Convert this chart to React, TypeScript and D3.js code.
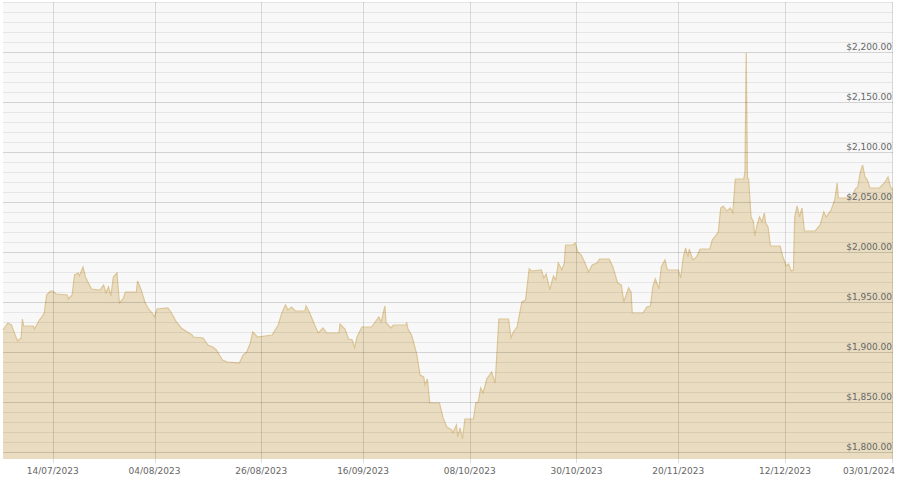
import React, { useRef, useEffect } from 'react';
import * as d3 from 'd3';

// days since 04/07/2023 (UTC) for each price reading
const days = [
  -0.25, 0.75, 1.5, 2.25, 2.75, 3.5, 3.75, 4, 6, 6.25, 7.25, 7.75, 8.25, 8.75, 9.5, 10, 10.75, 13, 13.25, 14,
  14.5, 15.25, 15.5, 16.25, 16.75, 17.25, 18, 19.75, 20.5, 21, 21.5, 22, 22.5, 23.25, 23.75, 24.5, 25, 27.25, 27.5, 28.25,
  29, 29.75, 30.5, 31, 31.5, 33.75, 34.5, 35.5, 36.5, 37.75, 38.75, 39, 41, 42, 43, 43.75, 44.5, 45, 46, 48.5,
  49.25, 50, 50.75, 51.25, 52.25, 55.25, 56.5, 57.25, 58, 58.5, 59.25, 60, 62, 62.25, 63, 64, 64.75, 65.75, 66.5, 69,
  69.25, 70.25, 71, 71.75, 72.25, 72.75, 73.75, 75.75, 76.5, 77.25, 77.75, 78.5, 78.75, 79.75, 80.25, 82.75, 83, 83.25, 84, 85,
  85.75, 86.5, 86.75, 87.25, 87.75, 89.75, 90.5, 91.25, 92.25, 92.5, 93.25, 93.5, 94, 94.5, 95, 96.75, 97.25, 97.75, 98.25, 98.75,
  99.5, 100.5, 101.25, 102, 104, 104.5, 105, 105.75, 106.75, 107.5, 108.25, 108.75, 110.75, 111.25, 111.75, 112.5, 113.25, 113.75, 114.25, 115,
  115.5, 115.75, 117.25, 117.75, 118.25, 119, 119.75, 120.5, 121.25, 122.25, 122.75, 124.75, 125.5, 126.5, 127.25, 127.75, 128.75, 129.25, 129.5, 131.75,
  132.5, 133.25, 133.75, 134.25, 135, 135.5, 136.25, 136.75, 139, 139.5, 140, 140.5, 141, 141.25, 142, 142.75, 143.5, 145.5, 146, 146.5,
  147.25, 147.75, 148.25, 149, 149.75, 150.25, 150.75, 152.5, 152.75, 153, 153.25, 153.5, 154, 154.5, 154.75, 155.25, 155.75, 156.25, 156.75, 157,
  157.5, 158, 160, 160.5, 161.25, 161.75, 162.25, 162.75, 163, 163.5, 164, 164.5, 165, 167.25, 168.25, 169, 169.5, 170.5, 171.25, 171.75,
  172, 174, 175, 175.5, 176, 176.5, 177, 177.5, 178, 178.5, 180.5, 181.5, 182.25, 182.75, 183.25,
];

const prices = [
  1922, 1929, 1927, 1917, 1911, 1914, 1933, 1926, 1926, 1923, 1932, 1935, 1939, 1957, 1961, 1961, 1958, 1957, 1953, 1957,
  1977, 1979, 1976, 1985, 1975, 1970, 1963, 1962, 1967, 1959, 1965, 1956, 1975, 1979, 1949, 1953, 1960, 1960, 1971, 1962,
  1950, 1943, 1939, 1935, 1943, 1944, 1939, 1930, 1924, 1920, 1917, 1915, 1914, 1907, 1905, 1902, 1896, 1892, 1890, 1889,
  1897, 1900, 1909, 1920, 1915, 1917, 1927, 1939, 1947, 1942, 1945, 1941, 1941, 1946, 1939, 1927, 1919, 1924, 1919, 1919,
  1928, 1923, 1913, 1912, 1904, 1915, 1925, 1925, 1930, 1935, 1930, 1946, 1929, 1924, 1927, 1927, 1929, 1923, 1917, 1899,
  1877, 1875, 1867, 1873, 1849, 1849, 1834, 1825, 1822, 1819, 1827, 1815, 1824, 1813, 1833, 1833, 1849, 1850, 1864, 1859,
  1873, 1880, 1869, 1933, 1933, 1914, 1920, 1925, 1950, 1952, 1983, 1981, 1982, 1974, 1978, 1962, 1976, 1972, 1989, 1982,
  1989, 2007, 2007, 2009, 2000, 1997, 1989, 1980, 1987, 1989, 1993, 1993, 1985, 1969, 1967, 1950, 1964, 1960, 1939, 1939,
  1945, 1946, 1965, 1973, 1963, 1985, 1992, 1982, 1982, 1974, 1994, 2004, 1995, 2003, 1992, 1995, 2003, 2003, 2012, 2015,
  2020, 2044, 2046, 2041, 2044, 2039, 2073, 2073, 2080, 2199, 2075, 2072, 2035, 2030, 2016, 2027, 2035, 2030, 2039, 2029,
  2025, 2006, 2006, 1996, 1986, 1988, 1981, 1982, 2035, 2046, 2035, 2044, 2021, 2021, 2027, 2040, 2035, 2042, 2052, 2069,
  2054, 2054, 2057, 2063, 2065, 2079, 2087, 2075, 2072, 2064, 2064, 2069, 2075, 2065, 2062,
];

const tickDates = ['2023-07-14', '2023-08-04', '2023-08-26', '2023-09-16', '2023-10-08', '2023-10-30', '2023-11-20', '2023-12-12', '2024-01-03'];
const yMajor = [1800, 1850, 1900, 1950, 2000, 2050, 2100, 2150, 2200];

const startDate = Date.UTC(2023, 6, 4);
const DAY = 86400000;

const W = 900;
const H = 481;

const App: React.FC = () => {
  const svgRef = useRef<SVGSVGElement | null>(null);

  useEffect(() => {
    if (!svgRef.current) return;
    const svg = d3.select(svgRef.current);
    svg.selectAll('*').remove();

    const data = days.map((d, i) => ({ date: new Date(startDate + d * DAY), value: prices[i] }));

    const left = 3, right = 893, top = 2, bottom = 459;

    const x = d3.scaleUtc()
      .domain([new Date(startDate - 0.25 * DAY), new Date(startDate + 183.27 * DAY)])
      .range([left, right]);

    const y = d3.scaleLinear()
      .domain([1793, 2250])
      .range([bottom, top]);

    // plot background
    svg.append('rect')
      .attr('x', left).attr('y', top)
      .attr('width', right - left).attr('height', bottom - top)
      .attr('fill', '#f8f8f9');

    // area
    const area = d3.area<{ date: Date; value: number }>()
      .x(d => x(d.date))
      .y0(bottom)
      .y1(d => y(d.value));
    const line = d3.line<{ date: Date; value: number }>()
      .x(d => x(d.date))
      .y(d => y(d.value));

    svg.append('path').datum(data)
      .attr('d', area)
      .attr('fill', '#e9dcc0');
    svg.append('path').datum(data)
      .attr('d', line)
      .attr('fill', 'none')
      .attr('stroke', '#dcc595')
      .attr('stroke-width', 1.2);

    // horizontal grid: minor every 10, major every 50
    const minor = d3.range(1800, 2251, 10).filter(v => v % 50 !== 0);
    svg.append('g').selectAll('line').data(minor).enter().append('line')
      .attr('x1', left).attr('x2', right)
      .attr('y1', d => Math.round(y(d)) + 0.5).attr('y2', d => Math.round(y(d)) + 0.5)
      .attr('stroke', 'rgba(0,0,0,0.07)');
    svg.append('g').selectAll('line').data(yMajor).enter().append('line')
      .attr('x1', left).attr('x2', right)
      .attr('y1', d => Math.round(y(d)) + 0.5).attr('y2', d => Math.round(y(d)) + 0.5)
      .attr('stroke', 'rgba(0,0,0,0.15)');
    svg.append('line')
      .attr('x1', left).attr('x2', right)
      .attr('y1', top + 0.5).attr('y2', top + 0.5)
      .attr('stroke', 'rgba(0,0,0,0.08)');

    // vertical grid at date ticks
    const ticks = tickDates.map(s => new Date(s + 'T00:00:00Z'));
    svg.append('g').selectAll('line').data(ticks).enter().append('line')
      .attr('x1', d => Math.round(x(d)) + 0.5).attr('x2', d => Math.round(x(d)) + 0.5)
      .attr('y1', top).attr('y2', bottom + 4)
      .attr('stroke', 'rgba(0,0,0,0.13)');

    // y labels (right, inside)
    svg.append('g').selectAll('text').data(yMajor).enter().append('text')
      .attr('x', 892)
      .attr('y', d => y(d) - 2)
      .attr('text-anchor', 'end')
      .attr('font-family', 'DejaVu Sans, Verdana, sans-serif')
      .attr('font-size', 9)
      .attr('fill', '#666')
      .text(d => d3.format('$,.2f')(d));

    // x labels
    const fmt = d3.utcFormat('%d/%m/%Y');
    svg.append('g').selectAll('text').data(ticks).enter().append('text')
      .attr('x', d => Math.min(x(d), 869))
      .attr('y', 474)
      .attr('text-anchor', 'middle')
      .attr('font-family', 'DejaVu Sans, Verdana, sans-serif')
      .attr('font-size', 9)
      .attr('fill', '#666')
      .text(d => fmt(d));
  }, []);

  return (
    <svg ref={svgRef} width={W} height={H}
      style={{ position: 'absolute', left: 0, top: 0, background: '#fff' }} />
  );
};

export default App;
